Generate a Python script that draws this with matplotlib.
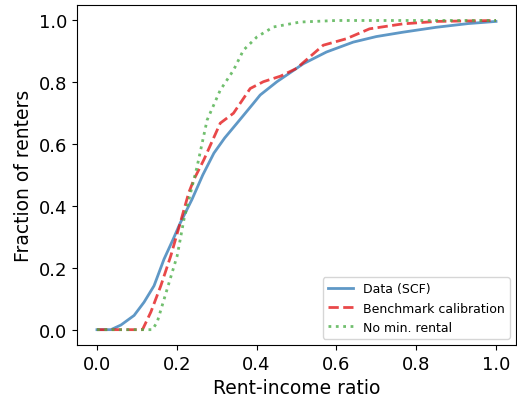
import matplotlib
matplotlib.use("Agg")
import matplotlib.pyplot as plt
import numpy as np

# values
data_x = [0.0, 0.035, 0.06, 0.093, 0.118, 0.143, 0.168, 0.19, 0.209, 0.238, 0.265, 0.293,
          0.32, 0.351, 0.392, 0.409, 0.451, 0.517, 0.575, 0.642, 0.7, 0.766, 0.85, 0.93, 1.0]
data_y = [0.0, 0.0, 0.015, 0.046, 0.089, 0.142, 0.228, 0.29, 0.346, 0.421, 0.5, 0.571,
          0.62, 0.668, 0.732, 0.759, 0.802, 0.86, 0.898, 0.93, 0.948, 0.962, 0.978, 0.99, 0.997]

bench_x = [0.0, 0.114, 0.135, 0.16, 0.185, 0.209, 0.23, 0.243, 0.268, 0.309, 0.342, 0.384,
           0.417, 0.46, 0.5, 0.567, 0.625, 0.683, 0.766, 0.85, 1.0]
bench_y = [0.0, 0.0, 0.057, 0.142, 0.239, 0.347, 0.443, 0.486, 0.55, 0.668, 0.70, 0.78,
           0.802, 0.82, 0.845, 0.92, 0.941, 0.973, 0.989, 0.997, 1.0]

nomin_x = [0.0, 0.139, 0.151, 0.176, 0.201, 0.218, 0.251, 0.276, 0.309, 0.342, 0.367,
           0.401, 0.442, 0.509, 0.6, 1.0]
nomin_y = [0.0, 0.0, 0.025, 0.132, 0.239, 0.357, 0.528, 0.678, 0.775, 0.839, 0.904,
           0.947, 0.979, 0.995, 1.0, 1.0]

fig = plt.figure(figsize=(5.17, 4.02), dpi=100)
ax = fig.add_axes([0.149, 0.139, 0.849, 0.846])

ax.plot(data_x, data_y, color='#377eb8', alpha=0.8, lw=2, label='Data (SCF)')
ax.plot(bench_x, bench_y, color='#e41a1c', alpha=0.8, lw=2, ls='--', label='Benchmark calibration')
ax.plot(nomin_x, nomin_y, color='#4daf4a', alpha=0.8, lw=2, ls=':', label='No min. rental')

ax.set_xlim(-0.05, 1.05)
ax.set_ylim(-0.05, 1.05)
ax.set_xticks(np.arange(0, 1.01, 0.2))
ax.set_yticks(np.arange(0, 1.01, 0.2))
ax.tick_params(labelsize=13)
ax.set_xlabel('Rent-income ratio', fontsize=13.5)
ax.set_ylabel('Fraction of renters', fontsize=13.5)
ax.legend(loc='lower right', fontsize=9)

fig.savefig('out.png', dpi=100)
